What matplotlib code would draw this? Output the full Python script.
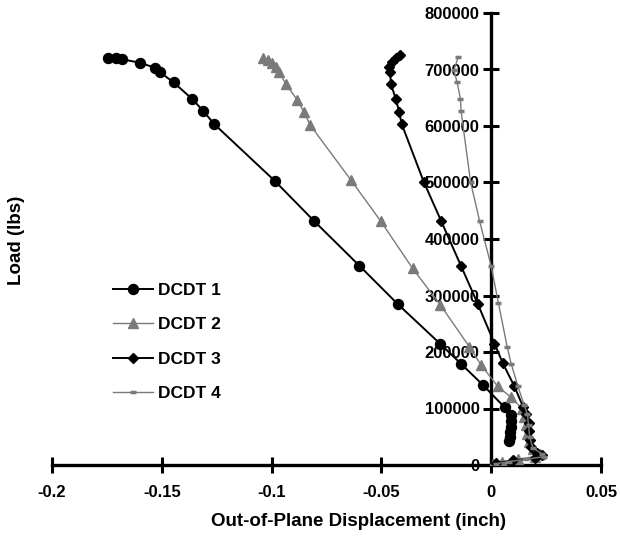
import matplotlib.pyplot as plt
from matplotlib.ticker import FixedLocator, FuncFormatter

plt.rcParams['font.family'] = ['Liberation Sans', 'DejaVu Sans']
plt.rcParams['font.weight'] = 'bold'

# DCDT 1 (black circles)
x1 = [-0.1745, -0.171, -0.168, -0.160, -0.153, -0.1507, -0.1446, -0.1362, -0.1312, -0.1263,
      -0.0986, -0.0807, -0.0601, -0.0426, -0.0231, -0.0137, -0.0036, 0.0061,
      0.0091, 0.0089, 0.0088, 0.0086, 0.0084, 0.0080]
y1 = [721000, 720000, 718000, 712000, 703000, 695000, 677000, 648000, 627000, 604000,
      503000, 432000, 353000, 285000, 214000, 179000, 141000, 102000,
      88000, 78000, 68000, 58000, 50000, 42000]

# DCDT 2 (gray triangles)
x2 = [-0.1038, -0.1015, -0.0997, -0.0980, -0.0967, -0.0936, -0.0883, -0.0853, -0.0825,
      -0.064, -0.0502, -0.0358, -0.0231, -0.0099, -0.0046, 0.0030,
      0.0090, 0.0140, 0.0150, 0.0160, 0.0162, 0.0170, 0.0190, 0.0220, 0.0200,
      0.0120, 0.0050, 0.0010]
y2 = [720000, 716000, 712000, 704000, 696000, 675000, 646000, 625000, 602000,
      505000, 431000, 348000, 283000, 209000, 177000, 139000,
      120000, 100000, 85000, 70000, 55000, 40000, 28000, 20000, 15000,
      10000, 6000, 2000]

# DCDT 3 (black diamonds)
x3 = [-0.0415, -0.0435, -0.0450, -0.0464, -0.0460, -0.0457, -0.0434, -0.0419, -0.0408,
      -0.0307, -0.0228, -0.0137, -0.0061, 0.0015, 0.0053, 0.0106, 0.0145,
      0.0160, 0.0170, 0.0170, 0.0175, 0.0180, 0.0210, 0.0230, 0.0200, 0.0100, 0.0020]
y3 = [725000, 720000, 714000, 705000, 695000, 675000, 647000, 625000, 604000,
      501000, 432000, 352000, 285000, 215000, 180000, 139000, 103000,
      90000, 75000, 60000, 45000, 32000, 22000, 17000, 12000, 8000, 3000]

# DCDT 4 (gray dashes)
x4 = [-0.0149, -0.0170, -0.0155, -0.0140, -0.0137, -0.0094, -0.0053, 0.0000, 0.0033,
      0.0073, 0.0091, 0.0122, 0.0150, 0.0165, 0.0170, 0.0175, 0.0190, 0.0230, 0.0240,
      0.0160, 0.0080, 0.0020]
y4 = [723000, 699000, 677000, 648000, 626000, 501000, 432000, 352000, 286000,
      209000, 179000, 139000, 106000, 90000, 70000, 50000, 30000, 20000, 15000,
      10000, 6000, 2000]

xticks = [-0.2, -0.15, -0.1, -0.05, 0, 0.05]
yticks = [0, 100000, 200000, 300000, 400000, 500000, 600000, 700000, 800000]

fig = plt.figure(figsize=(6.2, 5.49), dpi=100)
ax = fig.add_axes([52 / 620, 1 - 465 / 549, (601 - 52) / 620, (465 - 13) / 549])

gray = '#7a7a7a'
ax.plot(x1, y1, color='black', lw=1.4, marker='o', ms=7.2, label='DCDT 1', zorder=3)
ax.plot(x2, y2, color=gray, lw=1.0, marker='^', ms=7, label='DCDT 2', zorder=3)
ax.plot(x3, y3, color='black', lw=1.4, marker='D', ms=5.5, label='DCDT 3', zorder=3)
ax.plot(x4, y4, color=gray, lw=1.0, marker='_', ms=5, mew=2.5, label='DCDT 4', zorder=3)

ax.set_xlim(-0.2, 0.05)
ax.set_ylim(0, 800000)
ax.xaxis.set_major_locator(FixedLocator(xticks))
ax.yaxis.set_major_locator(FixedLocator(yticks))
ax.xaxis.set_major_formatter(FuncFormatter(lambda v, p: ('%g' % round(v, 2))))
ax.yaxis.set_major_formatter(FuncFormatter(lambda v, p: '%d' % v))

for s in ['top', 'right']:
    ax.spines[s].set_visible(False)
ax.spines['left'].set_position(('data', 0))
ax.spines['left'].set_linewidth(2.4)
ax.spines['bottom'].set_linewidth(2.4)

ax.tick_params(axis='y', direction='inout', length=11, width=2.2, pad=3.0, labelsize=12)
ax.tick_params(axis='x', direction='inout', length=12, width=2.2, pad=8.5, labelsize=12)
for lab in ax.get_xticklabels() + ax.get_yticklabels():
    lab.set_fontweight('bold')

ax.legend(loc='upper left', bbox_to_anchor=(113 / 620, 1 - 283 / 549),
          bbox_transform=fig.transFigure, frameon=False, fontsize=12.5,
          handlelength=2.3, handletextpad=0.3, labelspacing=1.1, borderpad=0,
          borderaxespad=0)

fig.text(359 / 620, 1 - 521 / 549, 'Out-of-Plane Displacement (inch)', ha='center',
         va='center', fontsize=13.5, fontweight='bold')
fig.text(17 / 620, 1 - 240 / 549, 'Load (lbs)', ha='center', va='center', rotation=90,
         fontsize=13.5, fontweight='bold')

fig.savefig('out.png', dpi=100)
